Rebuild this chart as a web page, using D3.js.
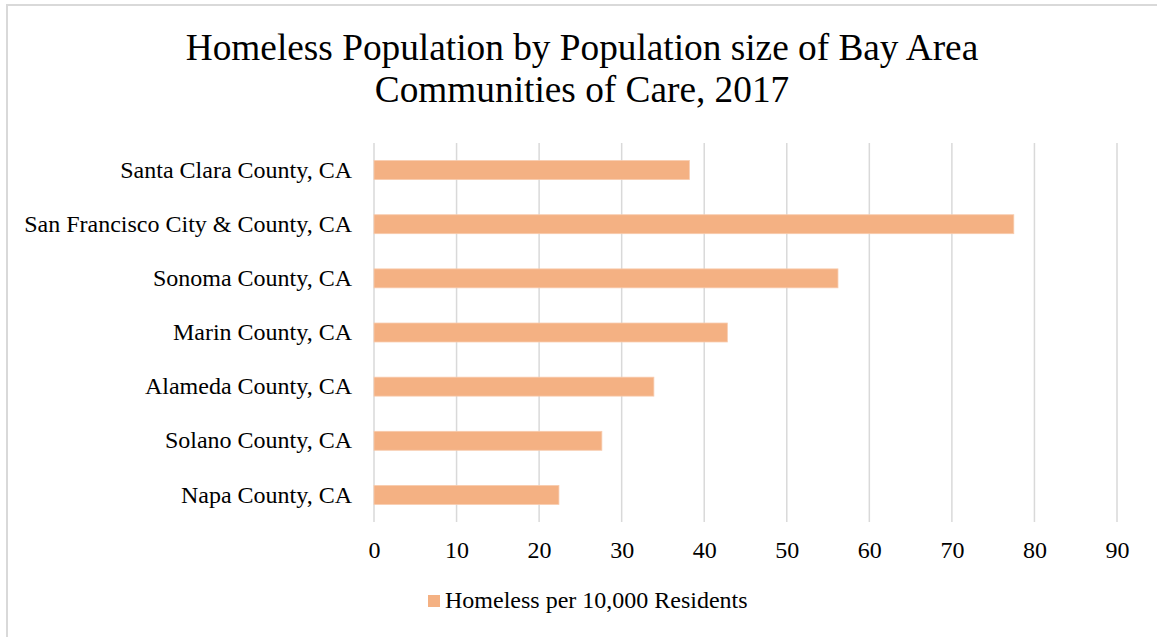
<!DOCTYPE html>
<html>
<head>
<meta charset="utf-8">
<script src="https://cdn.jsdelivr.net/npm/d3@7"></script>
<style>
  body { margin: 0; background: #fff; }
  text { font-family: "Liberation Serif", "Times New Roman", serif; fill: #000; }
</style>
</head>
<body>
<div id="chart"></div>
<script>
// chart data
const categories = [
    "Santa Clara County, CA",
    "San Francisco City & County, CA",
    "Sonoma County, CA",
    "Marin County, CA",
    "Alameda County, CA",
    "Solano County, CA",
    "Napa County, CA"
];
const homelessPer10k = [38.2, 77.5, 56.2, 42.8, 33.9, 27.6, 22.4];
const xTicks = [0, 10, 20, 30, 40, 50, 60, 70, 80, 90];
const titleLines = [
    "Homeless Population by Population size of Bay Area",
    "Communities of Care, 2017"
];
const seriesName = "Homeless per 10,000 Residents";

const W = 1157, H = 637;
const margin = {top: 143, right: 40, bottom: 115, left: 374},
    width = 1117 - margin.left,
    height = 522 - margin.top;

const svg = d3.select("#chart")
    .append("svg")
    .attr("width", W)
    .attr("height", H);

// outer chart border (only left/top show in the frame)
svg.append("rect")
    .attr("x", 7).attr("y", 5)
    .attr("width", W + 20).attr("height", H + 20)
    .attr("fill", "none")
    .attr("stroke", "#d9d9d9")
    .attr("stroke-width", 2);

// title
svg.append("text")
    .attr("x", 582)
    .attr("y", 60)
    .attr("text-anchor", "middle")
    .style("font-size", "37.3px")
    .selectAll("tspan")
    .data(titleLines)
    .enter()
    .append("tspan")
    .attr("x", 582)
    .attr("dy", (d, i) => i === 0 ? 0 : 42)
    .text(d => d);

const g = svg.append("g")
    .attr("transform", "translate(" + margin.left + "," + margin.top + ")");

const x = d3.scaleLinear()
    .domain([0, 90])
    .range([0, width]);

const y = d3.scaleBand()
    .domain(categories)
    .range([0, height])
    .paddingInner(0.65)
    .paddingOuter(0.325);

// gridlines
g.selectAll("line.grid")
    .data(xTicks)
    .enter()
    .append("line")
    .attr("class", "grid")
    .attr("x1", d => x(d)).attr("x2", d => x(d))
    .attr("y1", 0).attr("y2", height)
    .attr("stroke", "#d9d9d9")
    .attr("stroke-width", 1.5);

// x axis labels
const xAxis = g.append("g")
    .attr("transform", "translate(0," + height + ")")
    .call(d3.axisBottom(x).tickValues(xTicks).tickSize(0).tickPadding(0));
xAxis.select(".domain").remove();
xAxis.selectAll("text")
    .attr("dy", null)
    .attr("y", 36)
    .style("font-size", "24px")
    .style("font-family", "'Liberation Serif', 'Times New Roman', serif")
    .attr("fill", "#000");

// y axis labels
const yAxis = g.append("g")
    .call(d3.axisLeft(y).tickSize(0).tickPadding(22));
yAxis.select(".domain").remove();
yAxis.selectAll("text")
    .style("font-size", "24px")
    .style("font-family", "'Liberation Serif', 'Times New Roman', serif")
    .attr("fill", "#000");

// bars
g.selectAll("rect.bar")
    .data(categories)
    .enter()
    .append("rect")
    .attr("class", "bar")
    .attr("x", x(0))
    .attr("y", d => y(d))
    .attr("width", (d, i) => x(homelessPer10k[i]) - x(0))
    .attr("height", y.bandwidth())
    .attr("fill", "#F4B183")
    .attr("stroke", "#F8CBAD")
    .attr("stroke-width", 0.8);

// legend
const legend = svg.append("g").attr("transform", "translate(428,595)");
legend.append("rect")
    .attr("width", 12).attr("height", 12)
    .attr("fill", "#F4B183");
legend.append("text")
    .attr("x", 17)
    .attr("y", 13)
    .style("font-size", "24px")
    .text(seriesName);
</script>
</body>
</html>
